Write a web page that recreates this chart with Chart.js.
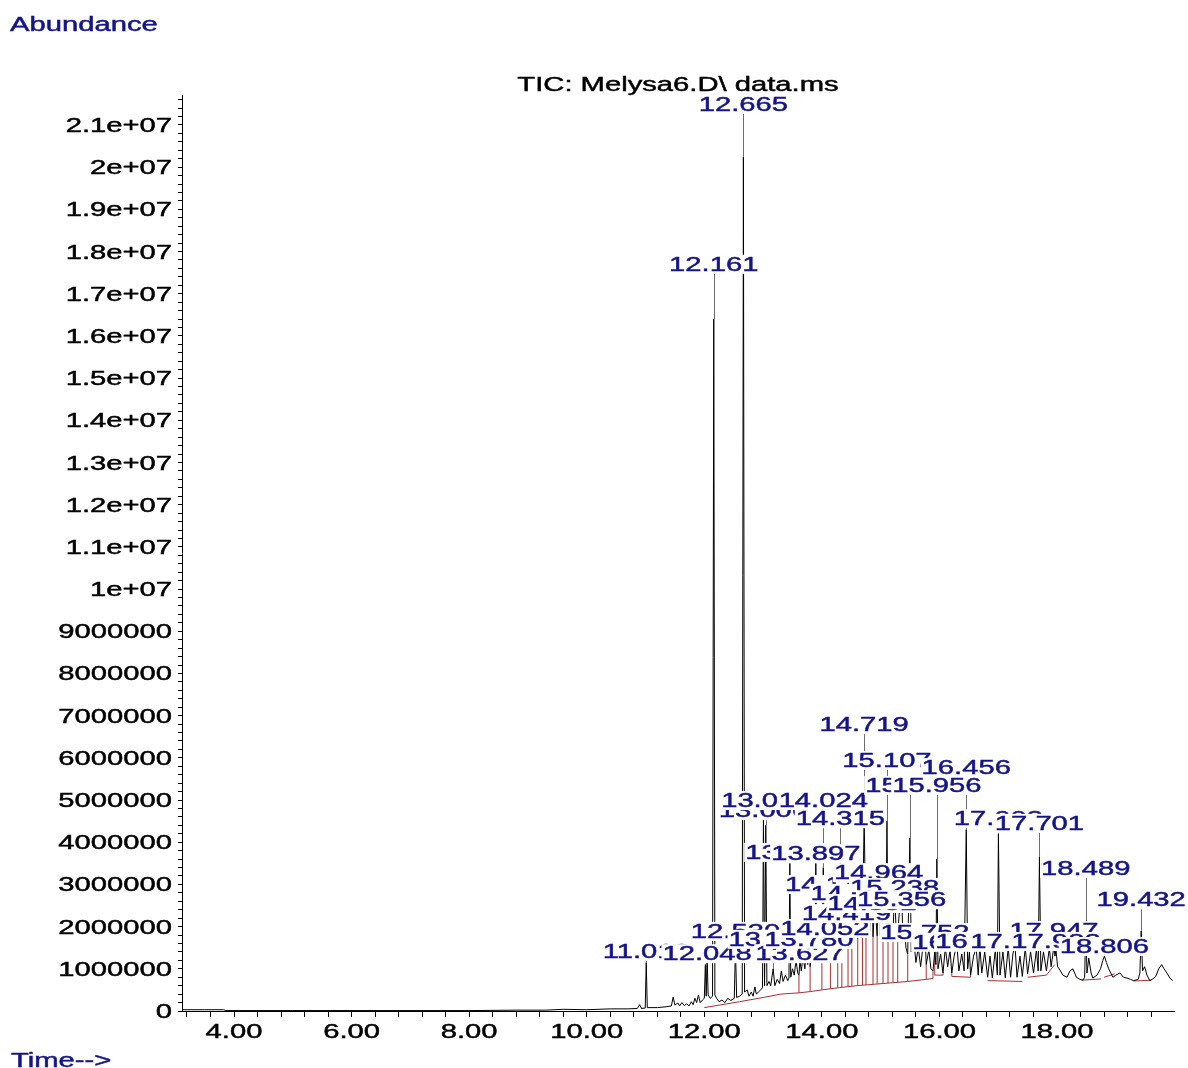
<!DOCTYPE html>
<html>
<head>
<meta charset="utf-8">
<title>TIC: Melysa6.D\ data.ms</title>
<script src="https://cdn.jsdelivr.net/npm/chart.js@4.4.1/dist/chart.umd.min.js"></script>
<style>
  html, body { margin: 0; padding: 0; background: #ffffff; }
  canvas { display: block; }
</style>
</head>
<body>
<canvas id="tic" width="1188" height="1068"></canvas>
<script>
// Total ion chromatogram of run Melysa6.D
// retention time in minutes, abundance in millions of counts

const chartTitle = 'TIC: Melysa6.D\\ data.ms';
const yAxisCaption = 'Abundance';
const xAxisCaption = 'Time-->';

const xTickValues = [4, 6, 8, 10, 12, 14, 16, 18];
const xTickLabels = ['4.00', '6.00', '8.00', '10.00', '12.00', '14.00', '16.00', '18.00'];
const yTickValues = [0, 1, 2, 3, 4, 5, 6, 7, 8, 9, 10, 11, 12, 13, 14, 15, 16, 17, 18, 19, 20, 21];
const yTickLabels = ['0', '1000000', '2000000', '3000000', '4000000', '5000000', '6000000',
  '7000000', '8000000', '9000000', '1e+07', '1.1e+07', '1.2e+07', '1.3e+07', '1.4e+07',
  '1.5e+07', '1.6e+07', '1.7e+07', '1.8e+07', '1.9e+07', '2e+07', '2.1e+07'];

// signal trace: [time, abundance]
const tracePoints = [
  [3.12,0.03],[3.5,0.03],[3.82,0.03],[3.86,0.01],[5.0,0.01],[6.5,0.01],[8.0,0.01],[8.8,0.02],
  [9.3,0.02],[9.6,0.04],[10.0,0.03],[10.4,0.05],[10.7,0.05],[10.86,0.06],[10.9,0.15],[10.93,0.06],
  [10.995,0.07],[11.012,1.15],[11.03,0.08],[11.2,0.08],[11.35,0.1],[11.44,0.12],[11.47,0.33],[11.5,0.14],
  [11.55,0.19],[11.58,0.12],[11.62,0.2],[11.66,0.13],[11.7,0.17],[11.74,0.12],[11.78,0.22],[11.81,0.15],
  [11.84,0.3],[11.87,0.2],[11.9,0.38],[11.93,0.2],[11.97,0.26],[12.0,0.3],[12.018,1.1],[12.032,0.35],
  [12.048,1.3],[12.065,0.38],[12.1,0.3],[12.14,0.35],[12.161,16.4],[12.18,0.38],[12.21,0.3],[12.25,0.22],
  [12.3,0.26],[12.35,0.2],[12.4,0.3],[12.45,0.25],[12.51,0.3],[12.53,1.5],[12.55,0.32],[12.6,0.35],
  [12.645,0.4],[12.665,20.25],[12.685,0.45],[12.73,0.5],[12.76,0.35],[12.8,0.45],[12.83,0.35],[12.86,0.57],
  [12.885,0.4],[12.92,0.45],[12.96,0.5],[12.99,0.55],[13.006,4.6],[13.025,0.6],[13.046,4.4],[13.065,0.6],
  [13.1,0.7],[13.13,0.6],[13.171,1.0],[13.2,0.6],[13.24,0.75],[13.28,0.65],[13.31,0.95],[13.34,0.7],
  [13.38,0.85],[13.42,0.72],[13.44,0.78],[13.455,3.5],[13.47,0.8],[13.5,1.0],[13.53,0.85],[13.56,1.2],
  [13.59,0.9],[13.61,0.85],[13.627,1.2],[13.65,0.95],[13.68,1.3],[13.71,1.0],[13.74,1.45],[13.76,1.1],
  [13.78,1.65],[13.8,1.05],[13.83,1.4],[13.86,1.15],[13.88,1.3],[13.897,3.5],[13.915,1.25],[13.945,1.9],
  [13.97,1.3],[14.0,1.35],[14.024,3.4],[14.04,1.45],[14.052,2.3],[14.075,1.5],[14.1,2.6],[14.12,1.55],
  [14.131,2.7],[14.145,1.55],[14.17,2.4],[14.188,2.8],[14.21,1.6],[14.24,2.5],[14.27,1.62],[14.295,2.6],
  [14.315,3.8],[14.34,1.65],[14.37,2.5],[14.395,2.2],[14.419,2.9],[14.445,1.68],[14.475,2.6],[14.51,1.7],
  [14.535,2.7],[14.564,3.0],[14.585,2.5],[14.61,1.72],[14.64,2.8],[14.665,1.74],[14.69,1.74],[14.719,4.6],
  [14.75,1.75],[14.78,2.7],[14.81,1.75],[14.852,3.0],[14.87,1.76],[14.9,2.6],[14.94,1.78],[14.964,3.2],
  [14.99,1.78],[15.015,2.6],[15.04,1.8],[15.07,2.7],[15.09,1.8],[15.107,4.5],[15.125,1.8],[15.16,2.6],
  [15.185,1.8],[15.21,1.82],[15.238,2.9],[15.265,1.8],[15.29,1.8],[15.32,2.4],[15.356,2.8],[15.38,1.7],
  [15.41,1.9],[15.43,1.5],[15.46,1.35],[15.497,4.1],[15.52,1.4],[15.56,1.75],[15.6,1.15],[15.64,1.5],
  [15.68,1.05],[15.725,1.6],[15.752,1.9],[15.775,1.1],[15.82,1.45],[15.855,1.0],[15.89,0.95],[15.92,1.4],
  [15.94,1.1],[15.956,3.6],[15.975,1.0],[16.02,1.35],[16.06,0.9],[16.1,1.5],[16.14,1.05],[16.18,1.45],
  [16.21,0.9],[16.25,1.3],[16.296,1.6],[16.33,0.95],[16.38,1.35],[16.42,0.95],[16.456,4.3],[16.48,1.0],
  [16.51,1.4],[16.53,0.85],[16.58,1.3],[16.625,1.5],[16.66,0.85],[16.687,1.55],[16.72,0.9],[16.77,1.4],
  [16.82,0.8],[16.86,1.3],[16.9,0.78],[16.95,1.45],[16.985,0.85],[17.003,4.2],[17.03,0.85],[17.08,1.4],
  [17.12,0.78],[17.17,1.5],[17.21,0.8],[17.25,1.35],[17.283,1.6],[17.32,0.8],[17.37,1.3],[17.41,0.82],
  [17.46,1.5],[17.5,0.88],[17.55,1.4],[17.6,0.9],[17.65,1.45],[17.68,0.95],[17.701,3.65],[17.725,0.95],
  [17.77,1.4],[17.82,0.95],[17.87,1.5],[17.9,1.05],[17.925,1.3],[17.947,1.55],[17.965,1.3],[17.982,1.45],
  [18.01,1.05],[18.05,0.97],[18.1,0.85],[18.17,0.8],[18.22,0.95],[18.27,1.0],[18.33,0.8],[18.39,0.75],
  [18.44,0.73],[18.47,0.8],[18.489,2.0],[18.51,0.9],[18.54,1.25],[18.58,0.9],[18.61,0.78],[18.68,0.85],
  [18.74,1.0],[18.78,1.2],[18.806,1.3],[18.84,1.15],[18.88,1.0],[18.95,0.8],[19.0,0.85],[19.07,0.9],
  [19.13,0.8],[19.19,0.78],[19.25,0.75],[19.3,0.72],[19.38,0.75],[19.41,0.9],[19.432,1.9],[19.455,0.95],
  [19.49,1.05],[19.53,0.85],[19.58,0.72],[19.63,0.76],[19.68,0.82],[19.73,1.0],[19.78,1.1],[19.82,1.0],
  [19.87,0.9],[19.92,0.78],[19.97,0.72]
];

// integrator baselines: [time, abundance], null starts a new segment
const baselinePoints = [
  [12.0,0.08],[12.3,0.15],[12.6,0.22],[13.0,0.32],[13.3,0.4],[13.61,0.43],[13.8,0.46],[14.0,0.5],
  [14.3,0.555],[14.6,0.6],[14.9,0.635],[15.2,0.67],[15.46,0.7],[15.775,0.75],[15.89,0.77], null,
  [15.92,0.85],[16.06,0.85], null,
  [16.21,0.82],[16.53,0.8], null,
  [16.82,0.72],[17.41,0.7], null,
  [17.5,0.8],[17.82,0.85],[17.96,1.1], null,
  [18.42,0.73],[18.75,0.76], null,
  [18.8,0.8],[18.98,0.88], null,
  [19.3,0.71],[19.6,0.73]
];

// integrator drop lines: [time, baseline level, signal level]
const dropLines = [
  [13.61,0.43,0.85],[13.8,0.46,1.05],[14.0,0.5,1.35],[14.145,0.53,1.55],[14.27,0.55,1.62],
  [14.34,0.56,1.65],[14.445,0.58,1.68],[14.51,0.59,1.7],[14.61,0.6,1.72],[14.69,0.61,1.74],
  [14.75,0.62,1.75],[14.87,0.63,1.76],[14.94,0.64,1.78],[15.04,0.65,1.8],[15.125,0.66,1.8],
  [15.21,0.67,1.82],[15.29,0.68,1.8],[15.46,0.7,1.35],[15.775,0.75,1.1],[15.89,0.77,0.95],
  [15.92,0.85,1.4],[16.06,0.85,0.9],[16.21,0.82,0.9],[16.53,0.8,0.85]
];

// labelled peaks (retention times) in drawing order
const peakLabels = ['11.012','12.048','12.161','12.530','12.665','13.006','13.046','13.171','13.455',
  '13.627','13.780','13.897','14.024','14.052','14.131','14.315','14.419','14.564','14.719','14.852',
  '14.964','15.107','15.238','15.356','15.497','15.752','15.956','16.296','16.456','16.687','17.003',
  '17.283','17.701','17.947','17.982','18.489','18.806','19.432'];
// level at which each label is set (abundance units, layout only)
const labelRowLevels = [1.42,1.37,17.71,1.90,21.50,4.76,5.00,1.71,3.77,
  1.37,1.71,3.74,5.00,1.97,3.01,4.57,2.32,2.80,6.80,2.56,
  3.29,5.95,2.94,2.65,5.36,1.87,5.36,1.64,5.78,1.66,4.57,
  1.66,4.46,1.92,1.66,3.39,1.54,2.65];

const NAVY = '#14148a';
const RED = '#a83030';
const FONT = '"Liberation Sans", Arial, sans-serif';
const STRETCH = 1.46;
const TEXT_DY = 1.5;

function textWidth(ctx, text, px) {
  ctx.font = px + 'px ' + FONT;
  return ctx.measureText(text).width * STRETCH;
}

// horizontally widened text, vertically centred on y
function wideText(ctx, text, x, y, align, px, color) {
  ctx.save();
  const w = textWidth(ctx, text, px);
  const left = align === 'center' ? x - w / 2 : (align === 'right' ? x - w : x);
  ctx.fillStyle = color;
  ctx.strokeStyle = color;
  ctx.lineWidth = 0.45;
  ctx.textAlign = 'left';
  ctx.textBaseline = 'middle';
  ctx.translate(left, y + TEXT_DY);
  ctx.scale(STRETCH, 1);
  ctx.fillText(text, 0, 0);
  ctx.strokeText(text, 0, 0);
  ctx.restore();
  return { left, w };
}

function apexAt(t) {
  const p = tracePoints.find(q => Math.abs(q[0] - t) < 1e-9);
  return p ? p[1] : 0;
}

const toXY = pts => pts.map(p => p ? { x: p[0], y: p[1] } : { x: NaN, y: null });
const dropData = [];
dropLines.forEach(d => {
  dropData.push({ x: d[0], y: d[1] }, { x: d[0], y: d[2] }, { x: d[0], y: null });
});

const peakAnnotations = {
  id: 'peakAnnotations',
  afterDatasetsDraw(chart) {
    const { ctx } = chart;
    const xs = chart.scales.x, ys = chart.scales.y;
    ctx.save();
    // leader lines from label to apex
    ctx.strokeStyle = '#6e6e6e';
    ctx.lineWidth = 1;
    peakLabels.forEach((txt, i) => {
      const t = parseFloat(txt);
      const px = Math.round(xs.getPixelForValue(t)) + 0.5;
      const top = ys.getPixelForValue(labelRowLevels[i]) + 10;
      const bottom = ys.getPixelForValue(apexAt(t));
      if (bottom > top + 1) {
        ctx.beginPath();
        ctx.moveTo(px, top);
        ctx.lineTo(px, bottom);
        ctx.stroke();
      }
    });
    // labels on opaque white boxes, later ones over earlier ones
    peakLabels.forEach((txt, i) => {
      const t = parseFloat(txt);
      const cx = xs.getPixelForValue(t);
      const cy = ys.getPixelForValue(labelRowLevels[i]);
      const w = textWidth(ctx, txt, 20);
      ctx.fillStyle = '#ffffff';
      ctx.fillRect(cx - w / 2 - 1, cy - 9, w + 2, 19);
      wideText(ctx, txt, cx, cy, 'center', 20, NAVY);
    });
    ctx.restore();
  },
  afterDraw(chart) {
    const { ctx } = chart;
    const xs = chart.scales.x, ys = chart.scales.y;
    xTickValues.forEach((v, i) => {
      wideText(ctx, xTickLabels[i], xs.getPixelForValue(v), xs.top + 20, 'center', 20, '#000000');
    });
    yTickValues.forEach((v, i) => {
      wideText(ctx, yTickLabels[i], ys.right - 10, ys.getPixelForValue(v), 'right', 20, '#000000');
    });
    wideText(ctx, chartTitle, 678, 84, 'center', 20, '#000000');
    wideText(ctx, yAxisCaption, 10, 24, 'left', 20, NAVY);
    wideText(ctx, xAxisCaption, 11, 1060, 'left', 20, NAVY);
  }
};

new Chart(document.getElementById('tic'), {
  type: 'line',
  data: {
    datasets: [
      {
        label: 'TIC',
        data: toXY(tracePoints),
        borderColor: '#000000',
        borderWidth: 1,
        pointRadius: 0,
        tension: 0,
        spanGaps: false,
        order: 0
      },
      {
        label: 'baseline',
        data: toXY(baselinePoints),
        borderColor: RED,
        borderWidth: 1,
        pointRadius: 0,
        tension: 0,
        spanGaps: false,
        order: 1
      },
      {
        label: 'drop lines',
        data: dropData,
        borderColor: RED,
        borderWidth: 1,
        pointRadius: 0,
        tension: 0,
        spanGaps: false,
        order: 2
      }
    ]
  },
  options: {
    responsive: false,
    animation: false,
    devicePixelRatio: 1,
    layout: { padding: { left: 0, right: 14, top: 95, bottom: 0 } },
    plugins: { legend: { display: false }, tooltip: { enabled: false } },
    scales: {
      x: {
        type: 'linear',
        min: 3.115,
        max: 19.99,
        afterBuildTicks(scale) {
          const ticks = [];
          for (let k = 8; k <= 49; k++) ticks.push({ value: k * 0.4 });
          scale.ticks = ticks;
        },
        afterFit(scale) { scale.height = 57; },
        ticks: { display: false },
        grid: { drawOnChartArea: false, drawTicks: true, tickLength: 6, tickColor: '#000000', tickWidth: 1 },
        border: { display: true, color: '#000000', width: 1 }
      },
      y: {
        type: 'linear',
        min: 0,
        max: 21.71,
        afterBuildTicks(scale) {
          const ticks = [];
          for (let k = 0; k <= 108; k++) ticks.push({ value: k * 0.2 });
          scale.ticks = ticks;
        },
        afterFit(scale) { scale.width = 182; },
        ticks: { display: false },
        grid: { drawOnChartArea: false, drawTicks: true, tickLength: 4, tickColor: '#000000', tickWidth: 1 },
        border: { display: true, color: '#000000', width: 1 }
      }
    }
  },
  plugins: [peakAnnotations]
});
</script>
</body>
</html>
